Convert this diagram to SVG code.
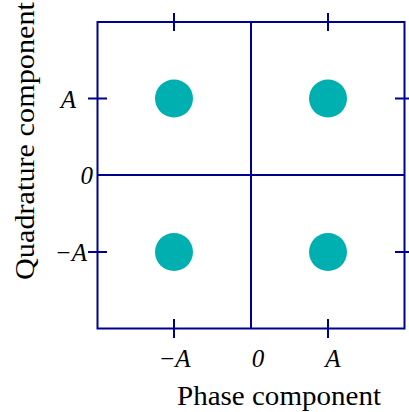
<svg xmlns="http://www.w3.org/2000/svg" width="409" height="412" viewBox="0 0 409 412">
<style>
.ax{fill:none;stroke:#000090;stroke-width:2}
.dot{fill:#00B0B0}
.tl{font-family:"Liberation Serif","Times New Roman",serif;font-style:italic;font-size:25px;fill:#000}
.lbl{font-family:"Liberation Serif","Times New Roman",serif;font-size:28px;fill:#000}
</style>
<rect width="409" height="412" fill="#fff"/>
<g id="axes">
<rect class="ax" x="97.5" y="22" width="307" height="306.5"/>
<line class="ax" x1="251" y1="22" x2="251" y2="328.5"/>
<line class="ax" x1="97.5" y1="175" x2="404.5" y2="175"/>
<path class="ax" d="M174 13V31M328 13V31M174 319V338M328 319V338M88 98.5H107M88 252H107M395 98.5H414M395 252H414"/>
</g>
<g id="dot-pp"><circle class="dot" cx="328" cy="98.5" r="19"/></g>
<g id="dot-mp"><circle class="dot" cx="174" cy="98.5" r="19"/></g>
<g id="dot-mm"><circle class="dot" cx="174" cy="252" r="19"/></g>
<g id="dot-pm"><circle class="dot" cx="328" cy="252" r="19"/></g>
<g id="labels">
<text class="tl" x="76" y="107.5" text-anchor="end">A</text>
<text class="tl" x="93" y="184" text-anchor="end">0</text>
<text class="tl" x="87" y="261" text-anchor="end">−A</text>
<text class="tl" x="174.5" y="367" text-anchor="middle">−A</text>
<text class="tl" x="258" y="367" text-anchor="middle">0</text>
<text class="tl" x="333" y="367" text-anchor="middle">A</text>
<text class="lbl" x="279" y="405" text-anchor="middle" textLength="204" lengthAdjust="spacingAndGlyphs">Phase component</text>
<text class="lbl" transform="translate(34 141) rotate(-90)" x="0" y="0" text-anchor="middle" textLength="278" lengthAdjust="spacingAndGlyphs">Quadrature component</text>
</g>
</svg>
